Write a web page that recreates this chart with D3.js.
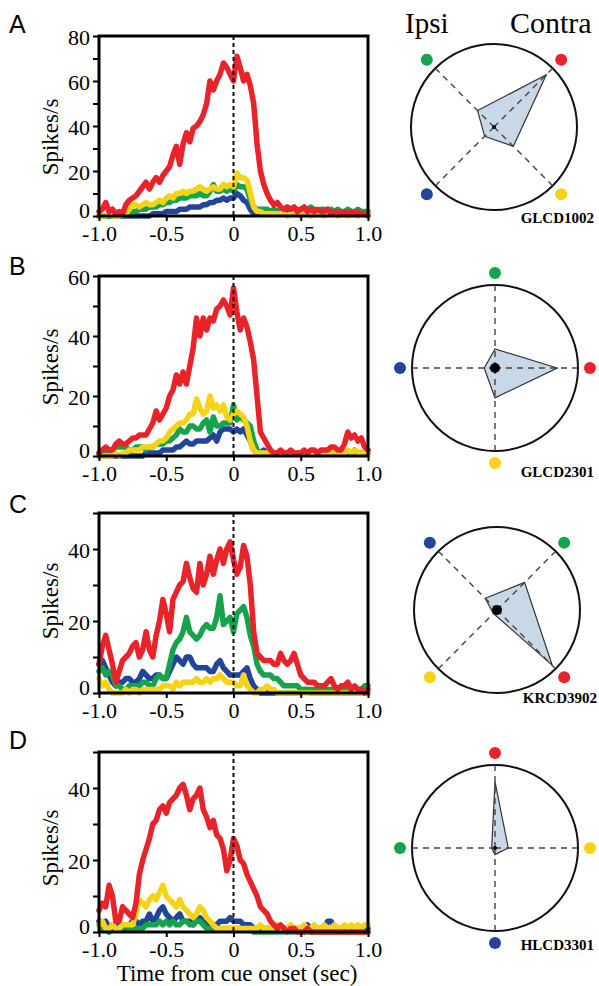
<!DOCTYPE html>
<html>
<head>
<meta charset="utf-8">
<script src="https://cdn.jsdelivr.net/npm/d3@7"></script>
<style>
  body { margin: 0; background: #fff; }
  svg { display: block; }
</style>
</head>
<body>
<svg id="fig" width="599" height="986"></svg>
<script>
// PSTH values (spikes/s), one value every 25 ms from -1.0 s to 1.0 s
var aRed = [2,3,6,2,3,1,2,1,5,7, 8,9,11,13,15,12,15,17,15,18, 20,22,27,31,23,32,37,33,39,40,
  42,45,50,60,56,60,63,68,66,63, 60,71,66,60,63,58,50,32,20,14, 10,7,5,6,4,3,4,3,4,2,
  3,4,2,3,2,3,2,2,3,1, 2,2,1,2,1,2,1,2,1,1, 0];
var aYellow = [0,0,0,1,0,0,0,1,1,3, 5,5,4,5,6,5,5,6,7,6, 8,9,8,10,10,11,10,11,11,12,
  13,12,11,12,13,12,12,14,13,14, 13,19,17,17,16,10,4,2,2,1, 1,1,1,1,1,1,0,1,1,1,
  0,1,1,0,1,1,1,0,1,1, 1,0,1,1,0,1,1,0,1,1, 1];
var aGreen = [0,0,0,0,0,0,0,0,1,1, 2,2,3,3,3,4,4,4,5,5, 6,6,7,7,8,8,8,9,9,9,
  10,9,9,11,14,11,11,12,11,12, 11,14,13,13,12,7,4,3,3,3, 3,2,3,2,3,3,4,3,2,3,
  2,3,3,4,3,2,3,3,2,3, 2,3,2,2,3,2,2,3,2,2, 2];
var aBlue = [0,0,0,0,0,0,0,0,0,0, 0,0,0,0,0,0,1,1,1,1, 2,2,2,2,3,3,3,4,4,4,
  4,5,5,6,6,7,7,8,7,8, 8,10,9,7,6,3,1,1,1,1, 1,1,1,1,1,1,1,1,1,1,
  1,1,1,1,1,1,1,1,1,1, 1,1,1,1,1,1,1,1,1,1, 1];

var bRed = [1,2,3,2,2,4,5,4,4,5, 6,6,7,7,7,9,11,15,12,14, 16,20,22,27,24,28,24,30,36,46,
  40,46,42,46,45,49,50,52,50,47, 56,48,42,46,43,38,32,20,8,6, 4,2,1,1,2,1,1,2,1,1,
  1,2,1,2,2,1,2,2,2,3, 3,2,2,4,8,6,7,5,6,3, 2];
var bYellow = [0,0,0,0,0,1,0,1,1,2, 2,2,2,3,3,3,3,4,5,5, 6,8,9,10,11,11,12,14,14,19,
  16,14,15,20,16,17,15,17,13,12, 14,15,14,13,10,5,2,1,1,1, 1,1,1,1,1,1,1,1,1,1,
  1,1,1,1,1,1,1,1,1,1, 2,1,1,1,2,1,2,1,1,1, 1];
var bGreen = [1,1,1,2,2,3,3,3,3,2, 2,3,3,3,2,3,3,4,4,4, 5,5,6,7,9,8,8,10,10,9,
  9,11,12,8,13,10,10,11,11,11, 17,12,13,12,11,10,5,2,1,1, 1,1,1,1,1,1,1,1,1,1,
  1,1,1,1,1,1,1,1,1,1, 1,1,1,1,1,1,1,1,1,1, 1];
var bBlue = [0,0,0,0,0,0,0,0,0,0, 0,0,0,0,1,1,1,1,1,2, 2,2,2,3,3,4,5,4,4,5,
  5,5,5,6,7,5,8,9,9,9, 8,9,8,9,7,5,2,1,1,2, 1,1,1,1,1,1,1,1,1,1,
  1,1,1,1,1,1,1,1,1,1, 1,1,1,1,1,1,2,1,1,1, 1];

var cRed = [8,13,16,12,8,3,6,9,10,11, 13,14,10,12,17,12,10,16,20,26, 22,17,26,28,30,31,36,32,29,28,
  36,30,33,38,33,37,40,36,40,42, 37,33,35,41,38,30,17,11,10,9, 9,9,8,8,11,9,8,9,11,8,
  5,4,3,3,3,2,2,2,3,4, 2,1,2,2,3,1,2,1,1,0, 1];
var cGreen = [6,7,5,6,5,2,2,1,1,2, 2,2,2,3,3,2,2,4,5,4, 4,8,12,14,15,17,21,17,16,15,
  16,18,19,18,18,21,27,19,20,21, 17,22,23,24,21,16,13,8,6,5, 5,5,4,4,3,2,2,2,2,2,
  1,1,1,1,1,1,1,1,1,1, 1,1,1,1,1,1,1,1,1,2, 2];
var cBlue = [8,9,7,5,3,2,3,3,4,4, 3,3,4,6,5,4,4,5,5,4, 4,6,8,10,9,8,10,10,8,7,
  7,7,7,6,6,8,9,7,6,5, 5,5,5,6,7,4,2,1,0,0, 0,0,0,0,0,0,0,0,0,0,
  0,1,1,0,0,0,0,0,0,0, 0,0,0,0,0,0,0,0,0,0, 0];
var cYellow = [4,2,3,1,0,0,0,0,1,0, 1,1,0,1,1,1,1,1,1,2, 2,2,1,3,2,3,3,3,3,4,
  3,3,4,3,4,4,5,4,3,3, 3,2,2,5,2,1,0,0,1,1, 2,1,1,0,0,0,0,0,0,0,
  0,0,0,0,0,0,0,0,0,0, 0,0,0,0,0,0,0,0,0,0, 0];

var dRed = [6,8,7,13,10,3,3,7,6,5, 4,8,16,20,23,26,30,31,34,35, 33,36,37,38,40,41,38,34,37,38,
  40,34,32,29,31,27,26,23,17,20, 26,24,20,19,16,14,12,10,7,6, 5,3,2,1,2,1,0,1,1,0,
  0,0,1,0,0,0,0,0,0,0, 0,0,0,0,0,0,0,0,0,0, 0];
var dYellow = [2,3,1,1,2,1,1,2,2,2, 2,5,9,8,7,9,10,9,11,13, 10,9,8,7,9,7,6,5,4,5,
  7,6,4,3,2,1,1,1,1,1, 1,1,1,1,1,1,1,1,2,1, 1,1,1,2,1,1,1,2,1,1,
  1,2,1,1,2,1,1,2,1,1, 2,1,1,2,1,2,1,2,1,2, 2];
var dBlue = [3,2,3,1,2,2,2,1,1,2, 3,3,2,3,3,5,3,4,6,7, 5,4,3,4,5,3,3,3,2,3,
  4,3,2,2,2,2,3,3,3,4, 3,3,3,2,2,2,1,1,1,1, 1,1,1,1,1,1,1,1,1,1,
  1,1,2,1,1,1,1,1,3,3, 1,1,1,1,1,1,1,1,1,1, 1];
var dGreen = [2,1,1,0,1,1,1,1,2,1, 1,1,1,1,2,2,2,2,3,2, 3,2,3,2,2,3,3,2,2,3,
  3,2,1,1,1,1,1,1,1,1, 1,1,1,1,1,1,0,0,0,0, 0,0,0,0,0,0,0,0,0,0,
  0,0,0,0,0,0,0,0,0,0, 0,0,0,0,0,0,0,0,0,0, 0];

// target directions (deg, counter-clockwise from right) and relative response
var aAngles = {red: 45, green: 135, blue: 225, yellow: 315};
var aTuning = {red: 0.89, green: 0.28, blue: 0.16, yellow: 0.33};
var bAngles = {red: 0, green: 90, blue: 180, yellow: 270};
var bTuning = {red: 0.75, green: 0.23, blue: 0.13, yellow: 0.36};
var cAngles = {red: 315, green: 45, blue: 135, yellow: 225};
var cTuning = {red: 0.94, green: 0.47, blue: 0.2, yellow: 0.06};
var dAngles = {red: 90, yellow: 0, blue: 270, green: 180};
var dTuning = {red: 0.8, yellow: 0.16, blue: 0.08, green: 0.04};

var cellNames = ['GLCD1002', 'GLCD2301', 'KRCD3902', 'HLCD3301'];
var xTicks = [-1, -0.5, 0, 0.5, 1];

var times = d3.range(aRed.length).map(function(i) { return -1 + i * 0.025; });

var colors = {red: '#e8232a', yellow: '#f6d315', green: '#15a44c', blue: '#23449c'};
var drawOrder = ['blue', 'green', 'yellow', 'red'];
var serif = '"Liberation Serif", "Times New Roman", serif';

var panels = [
  {letter: 'A', letterY: 33, top: 36, yMax: 80, yLabels: [0, 20, 40, 60, 80], titleY: 137, tickGap: 25,
    series: {red: aRed, yellow: aYellow, green: aGreen, blue: aBlue},
    angles: aAngles, tuning: aTuning, cx: 494, cy: 127, dot: 2, cell: cellNames[0], cellX: 594, cellY: 223},
  {letter: 'B', letterY: 275, top: 276, yMax: 60, yLabels: [0, 20, 40, 60], titleY: 367, tickGap: 25,
    series: {red: bRed, yellow: bYellow, green: bGreen, blue: bBlue},
    angles: bAngles, tuning: bTuning, cx: 495, cy: 368, dot: 5, cell: cellNames[1], cellX: 594, cellY: 477},
  {letter: 'C', letterY: 513, top: 513, yMax: 50, yLabels: [0, 20, 40], titleY: 601, tickGap: 25,
    series: {red: cRed, yellow: cYellow, green: cGreen, blue: cBlue},
    angles: cAngles, tuning: cTuning, cx: 497, cy: 610, dot: 5, cell: cellNames[2], cellX: 597, cellY: 703},
  {letter: 'D', letterY: 749, top: 752, yMax: 50, yLabels: [0, 20, 40], titleY: 848, tickGap: 25,
    series: {red: dRed, yellow: dYellow, green: dGreen, blue: dBlue},
    angles: dAngles, tuning: dTuning, cx: 495, cy: 848, dot: 2, cell: cellNames[3], cellX: 594, cellY: 950}
];

var plotLeft = 99, plotRight = 368, plotHeight = 180;
var circleR = 83, dotDist = 95;

var svg = d3.select('#fig');

var x = d3.scaleLinear().domain([-1, 1]).range([plotLeft, plotRight]);

function fmtTime(d) {
  if (d === 0) { return '0'; }
  return (d < 0 ? '-' : '') + Math.abs(d).toFixed(1);
}

panels.forEach(function(p) {
  var bottom = p.top + plotHeight;
  var y = d3.scaleLinear().domain([0, p.yMax]).range([bottom, p.top]);

  svg.append('text')
      .attr('x', 9)
      .attr('y', p.letterY)
      .style('font-family', '"Liberation Sans", Arial, sans-serif')
      .style('font-size', '25px')
      .text(p.letter);

  var g = svg.append('g');

  // traces
  var line = d3.line()
      .x(function(d, i) { return x(times[i]); })
      .y(function(d) { return y(d); });

  drawOrder.forEach(function(c) {
    g.append('path')
        .datum(p.series[c])
        .attr('d', line)
        .attr('fill', 'none')
        .attr('stroke', colors[c])
        .attr('stroke-width', 5.5)
        .attr('stroke-linejoin', 'round')
        .attr('stroke-linecap', 'round');
  });

  // cue onset
  g.append('line')
      .attr('x1', x(0)).attr('x2', x(0))
      .attr('y1', p.top).attr('y2', bottom)
      .attr('stroke', '#111')
      .attr('stroke-width', 2)
      .attr('stroke-dasharray', '4,3');

  g.append('rect')
      .attr('x', plotLeft).attr('y', p.top)
      .attr('width', plotRight - plotLeft).attr('height', plotHeight)
      .attr('fill', 'none')
      .attr('stroke', '#000')
      .attr('stroke-width', 3);

  var yAxis = g.append('g')
      .attr('transform', 'translate(' + plotLeft + ',0)')
      .call(d3.axisLeft(y)
        .tickValues(d3.range(0, p.yMax + 1, 10))
        .tickSize(6)
        .tickPadding(3)
        .tickFormat(function(d) { return p.yLabels.indexOf(d) >= 0 ? d : ''; }));
  yAxis.select('.domain').remove();
  yAxis.selectAll('line').attr('stroke-width', 2);
  yAxis.selectAll('text')
      .attr('dy', function(d) { return d === 0 ? '0.08em' : '0.38em'; })
      .style('font-family', serif)
      .style('font-size', '22px')
      .attr('fill', '#000');

  var xAxis = g.append('g')
      .attr('transform', 'translate(0,' + bottom + ')')
      .call(d3.axisBottom(x)
        .tickValues(xTicks)
        .tickSize(5)
        .tickFormat(fmtTime));
  xAxis.select('.domain').remove();
  xAxis.selectAll('line').attr('stroke-width', 2);
  xAxis.selectAll('text')
      .attr('y', p.tickGap)
      .attr('dy', 0)
      .style('font-family', serif)
      .style('font-size', '22px')
      .attr('fill', '#000');

  svg.append('text')
      .attr('transform', 'translate(58,' + p.titleY + ') rotate(-90)')
      .attr('text-anchor', 'middle')
      .style('font-family', serif)
      .style('font-size', '23px')
      .text('Spikes/s');

  // polar tuning plot
  var r = d3.scaleLinear().domain([0, 1]).range([0, circleR]);
  var pg = svg.append('g')
      .attr('transform', 'translate(' + p.cx + ',' + p.cy + ')');

  var dirs = Object.keys(p.angles).map(function(c) {
    return {color: c, angle: p.angles[c] * Math.PI / 180, value: p.tuning[c]};
  }).sort(function(a, b) { return a.angle - b.angle; });

  pg.append('circle')
      .attr('r', circleR)
      .attr('fill', 'none')
      .attr('stroke', '#111')
      .attr('stroke-width', 2);

  pg.append('path')
      .attr('d', d3.line()(dirs.map(function(d) {
        return [Math.cos(d.angle) * r(d.value), -Math.sin(d.angle) * r(d.value)];
      })) + 'Z')
      .attr('fill', '#c9d8e6')
      .attr('stroke', '#333')
      .attr('stroke-width', 1.2);

  pg.selectAll('.spoke')
      .data(dirs)
    .enter().append('line')
      .attr('class', 'spoke')
      .attr('x1', 0).attr('y1', 0)
      .attr('x2', function(d) { return Math.cos(d.angle) * circleR; })
      .attr('y2', function(d) { return -Math.sin(d.angle) * circleR; })
      .attr('stroke', '#444')
      .attr('stroke-width', 1.4)
      .attr('stroke-dasharray', '6,5');

  pg.selectAll('.target')
      .data(dirs)
    .enter().append('circle')
      .attr('class', 'target')
      .attr('cx', function(d) { return Math.cos(d.angle) * dotDist; })
      .attr('cy', function(d) { return -Math.sin(d.angle) * dotDist; })
      .attr('r', 6)
      .attr('fill', function(d) { return colors[d.color]; });

  pg.append('circle')
      .attr('r', p.dot)
      .attr('fill', '#000');

  svg.append('text')
      .attr('x', p.cellX)
      .attr('y', p.cellY)
      .attr('text-anchor', 'end')
      .style('font-family', serif)
      .style('font-size', '15px')
      .style('font-weight', 'bold')
      .text(p.cell);
});

svg.append('text')
    .attr('x', 405)
    .attr('y', 33)
    .style('font-family', serif)
    .style('font-size', '29px')
    .text('Ipsi');

svg.append('text')
    .attr('x', 510)
    .attr('y', 33)
    .style('font-family', serif)
    .style('font-size', '30px')
    .text('Contra');

svg.append('text')
    .attr('x', 237)
    .attr('y', 981)
    .attr('text-anchor', 'middle')
    .style('font-family', serif)
    .style('font-size', '23px')
    .text('Time from cue onset (sec)');
</script>
</body>
</html>
